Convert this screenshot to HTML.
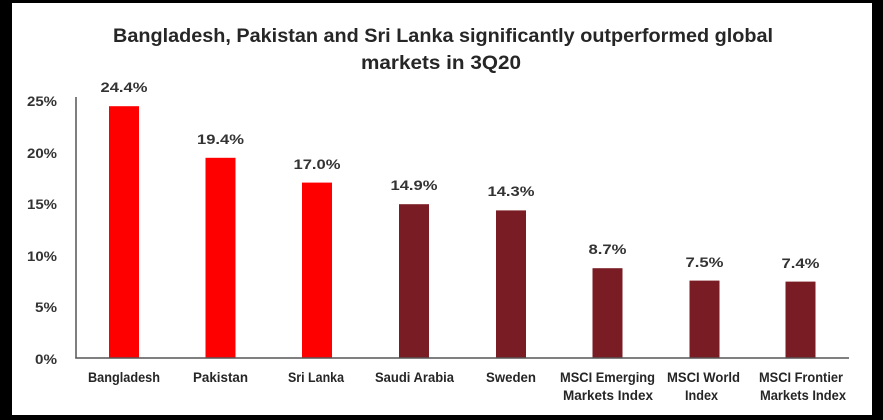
<!DOCTYPE html>
<html><head><meta charset="utf-8"><style>
html,body{margin:0;padding:0;background:#000;}
svg{display:block;}
</style></head><body>
<svg width="883" height="420" viewBox="0 0 883 420" xmlns="http://www.w3.org/2000/svg" font-family="Liberation Sans, Arial, sans-serif">
<rect x="0" y="0" width="883" height="420" fill="#000"/>
<rect x="12" y="3" width="860" height="412" fill="#fff"/>
<g fill="#262626" font-weight="bold" text-anchor="middle">
<text x="443" y="42" font-size="19" textLength="660" lengthAdjust="spacingAndGlyphs">Bangladesh, Pakistan and Sri Lanka significantly outperformed global</text>
<text x="441" y="69" font-size="19" textLength="160" lengthAdjust="spacingAndGlyphs">markets in 3Q20</text>
</g>
<g fill="#333" font-weight="bold" font-size="14" text-anchor="end">
<text x="57" y="106" textLength="30" lengthAdjust="spacingAndGlyphs">25%</text>
<text x="57" y="158" textLength="30" lengthAdjust="spacingAndGlyphs">20%</text>
<text x="57" y="209" textLength="30" lengthAdjust="spacingAndGlyphs">15%</text>
<text x="57" y="261" textLength="30" lengthAdjust="spacingAndGlyphs">10%</text>
<text x="57" y="312" textLength="22" lengthAdjust="spacingAndGlyphs">5%</text>
<text x="57" y="364" textLength="22" lengthAdjust="spacingAndGlyphs">0%</text>
</g>
<g>
<rect x="109" y="106.2" width="30" height="251.8" fill="#fe0000"/>
<rect x="205.5" y="157.8" width="30" height="200.2" fill="#fe0000"/>
<rect x="302" y="182.6" width="30" height="175.4" fill="#fe0000"/>
<rect x="399" y="204.2" width="30" height="153.8" fill="#7a1c24"/>
<rect x="496" y="210.4" width="30" height="147.6" fill="#7a1c24"/>
<rect x="592.5" y="268.2" width="30" height="89.8" fill="#7a1c24"/>
<rect x="689.5" y="280.6" width="30" height="77.4" fill="#7a1c24"/>
<rect x="785.5" y="281.6" width="30" height="76.4" fill="#7a1c24"/>
</g>
<line x1="76" y1="97" x2="76" y2="358.5" stroke="#555" stroke-width="1.5"/>
<line x1="75.3" y1="358" x2="849" y2="358" stroke="#555" stroke-width="1.5"/>
<g fill="#333" font-weight="bold" font-size="14" text-anchor="middle">
<text x="124" y="92" textLength="47" lengthAdjust="spacingAndGlyphs">24.4%</text>
<text x="220.5" y="144" textLength="47" lengthAdjust="spacingAndGlyphs">19.4%</text>
<text x="317" y="169" textLength="47" lengthAdjust="spacingAndGlyphs">17.0%</text>
<text x="414" y="190" textLength="47" lengthAdjust="spacingAndGlyphs">14.9%</text>
<text x="511" y="196" textLength="47" lengthAdjust="spacingAndGlyphs">14.3%</text>
<text x="607.5" y="254" textLength="38" lengthAdjust="spacingAndGlyphs">8.7%</text>
<text x="704.5" y="267" textLength="38" lengthAdjust="spacingAndGlyphs">7.5%</text>
<text x="800.5" y="268" textLength="38" lengthAdjust="spacingAndGlyphs">7.4%</text>
</g>
<g fill="#262626" font-weight="bold" font-size="13.5" text-anchor="middle">
<text x="124" y="382" textLength="72" lengthAdjust="spacingAndGlyphs">Bangladesh</text>
<text x="220.5" y="382" textLength="55" lengthAdjust="spacingAndGlyphs">Pakistan</text>
<text x="316" y="382" textLength="56" lengthAdjust="spacingAndGlyphs">Sri Lanka</text>
<text x="414.5" y="382" textLength="79" lengthAdjust="spacingAndGlyphs">Saudi Arabia</text>
<text x="511" y="382" textLength="50" lengthAdjust="spacingAndGlyphs">Sweden</text>
<text x="607.5" y="382" textLength="95" lengthAdjust="spacingAndGlyphs">MSCI Emerging</text>
<text x="608" y="400" textLength="90" lengthAdjust="spacingAndGlyphs">Markets Index</text>
<text x="703.5" y="382" textLength="73" lengthAdjust="spacingAndGlyphs">MSCI World</text>
<text x="701.5" y="400" textLength="33" lengthAdjust="spacingAndGlyphs">Index</text>
<text x="801" y="382" textLength="84" lengthAdjust="spacingAndGlyphs">MSCI Frontier</text>
<text x="803" y="400" textLength="86" lengthAdjust="spacingAndGlyphs">Markets Index</text>
</g>
</svg>
</body></html>
